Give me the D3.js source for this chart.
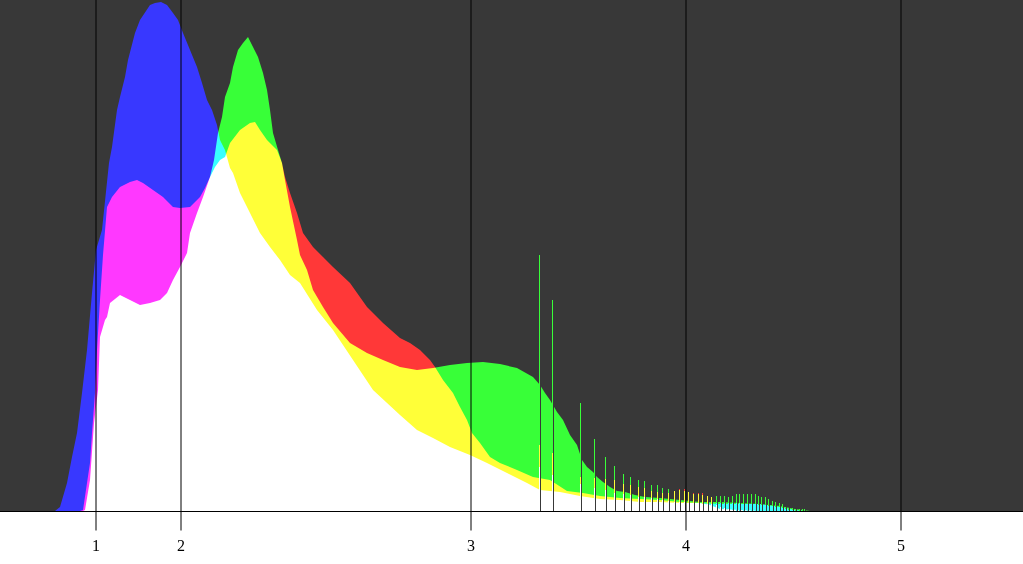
<!DOCTYPE html>
<html><head><meta charset="utf-8">
<script src="https://cdn.jsdelivr.net/npm/d3@7"></script>
<style>html,body{margin:0;padding:0;background:#fff;overflow:hidden}svg{display:block}</style>
</head><body>
<svg id="c" width="1023" height="564"></svg>
<script>
// Histogram bins (x = bin position, value = count in plot units)
const blueData = [[55,0],[60,4],[67,28],[72,54],[77,78],[82,118],[87,161],[92,218],[96,261],[102,281],[109,348],[112,364],[117,401],[120,414],[125,434],[128,451],[135,478],[140,491],[150,506],[155,508],[161,509],[167,506],[173,498],[178,491],[183,478],[190,461],[197,444],[202,428],[207,411],[212,401],[217,386],[220,371],[225,361],[230,343],[233,338],[240,318],[250,298],[260,278],[270,264],[280,251],[290,236],[300,228],[317,201],[333,181],[353,151],[373,121],[400,96],[417,81],[433,73],[450,64],[470,56],[487,48],[507,38],[527,28],[540,21],[560,19],[580,15],[600,12],[620,11],[640,9],[660,9],[680,8],[700,8],[720,7],[740,7],[760,7],[780,4],[795,1],[805,0]];
const redData = [[80,0],[83,1],[87,28],[90,48],[92,78],[95,118],[97,161],[100,211],[103,256],[107,304],[112,314],[120,324],[130,329],[137,331],[143,328],[153,321],[163,314],[173,304],[180,303],[190,304],[200,314],[205,323],[210,334],[215,344],[220,351],[225,354],[230,368],[240,381],[250,388],[255,389],[260,381],[267,371],[277,361],[282,348],[285,334],[290,318],[297,298],[303,278],[313,264],[323,254],[333,244],[350,228],[367,204],[383,188],[400,173],[410,168],[420,161],[430,151],[435,144],[443,131],[453,118],[460,104],[467,91],[472,78],[480,68],[490,54],[500,48],[517,41],[533,34],[550,31],[567,20],[583,18],[600,15],[620,13],[640,12],[660,11],[680,9],[700,8],[710,6],[720,2],[740,1],[760,0]];
const greenData = [[83,0],[85,1],[90,31],[94,88],[98,121],[100,174],[105,191],[107,194],[110,208],[120,216],[130,211],[140,206],[150,208],[160,211],[167,218],[173,231],[180,244],[187,258],[190,278],[197,298],[203,314],[210,334],[214,351],[218,378],[222,394],[225,414],[230,428],[233,444],[238,461],[243,468],[248,474],[253,464],[258,454],[263,438],[267,421],[270,401],[273,378],[278,361],[282,348],[285,331],[290,304],[297,271],[300,256],[307,241],[313,221],[323,204],[333,188],[350,168],[367,158],[383,151],[400,144],[417,141],[433,143],[450,146],[467,148],[483,149],[500,147],[517,143],[533,134],[540,126],[545,118],[550,111],[557,99],[563,91],[570,76],[577,66],[582,51],[587,44],[593,39],[597,34],[603,29],[610,24],[617,20],[625,19],[635,16],[645,14],[660,13],[680,11],[700,9],[720,9],[740,8],[760,7],[780,5],[795,2],[810,0]];

// Comb spikes: bin position and count per channel
const spikeX = [539,552,580,594,605,614,623,630,638,644,651,657,662,668,674,679,684,688,693,698,702,707,711,716,720,724,728,732,736,739,743,747,751,755,758,761,765,768,772,775,779,782,785,788,792,795,799,802,804];
const spikeG = [256,211,108,72,54,45,37,34,31,30,26,26,23,22,20,21,20,19,17,17,16,15,14,15,15,15,14,15,17,17,17,17,17,17,15,14,14,12,10,9,8,7,4,3,3,2,2,2,2];
const spikeR = [66,58,34,33,32,31,27,26,24,23,20,19,18,18,20,22,22,19,18,18,18,15,14,6,4,3,2,1,0,0,0,0,0,0,0,0,0,0,0,0,0,0,0,0,0,0,0,0,0];
const spikeB = [44,36,27,23,21,18,17,16,14,14,13,12,11,10,9,9,9,8,8,8,7,7,7,8,8,8,8,8,8,8,7,7,7,7,6,6,6,5,5,4,4,3,2,1,1,0,0,0,0];

const tickValues = [95,180,470,685,900];
const tickLabels = ["1","2","3","4","5"];

const W = 1023, H = 564, baseY = 511;
const bg = "#383838";
const svg = d3.select("#c");
const x = d3.scaleLinear().domain([0,1023]).range([0,W]);
const y = d3.scaleLinear().domain([0,511]).range([baseY,0]);

svg.append("rect").attr("x",0).attr("y",0).attr("width",W).attr("height",H).attr("fill","#fff");
svg.append("rect").attr("x",0).attr("y",0).attr("width",W).attr("height",baseY).attr("fill",bg);

const area = d3.area().x(d=>x(d[0])).y0(y(0)).y1(d=>y(d[1])).curve(d3.curveLinear);
const channels = [
  {data: redData, color:"#ff0000"},
  {data: greenData, color:"#00ff00"},
  {data: blueData, color:"#0000ff"}
];
const g = svg.append("g");
channels.forEach(ch=>{
  g.append("path").attr("d",area(ch.data)).attr("fill",ch.color).style("mix-blend-mode","screen");
});

// spikes: split each bin into layered segments with the additive colour of the channels present
const mixColor = {"RGB":"#ffffff","RG":"#ffff38","GB":"#38ffff","RB":"#ff38ff","R":"#ff3838","G":"#38ff38","B":"#3838ff"};
const segs = [];
spikeX.forEach((sx,i)=>{
  const vals = [["R",spikeR[i]],["G",spikeG[i]],["B",spikeB[i]]].sort((a,b)=>a[1]-b[1]);
  let lo = 0;
  vals.forEach((v,k)=>{
    if (v[1] > lo) {
      const key = ["R","G","B"].filter(c=>vals.slice(k).some(w=>w[0]===c)).join("");
      segs.push({x:sx, lo:lo, hi:v[1], color:mixColor[key]});
      lo = v[1];
    }
  });
});
g.selectAll(null).data(segs).enter().append("rect")
  .attr("x",d=>x(d.x)).attr("width",d=>x(d.x+1)-x(d.x))
  .attr("y",d=>y(d.hi)).attr("height",d=>y(d.lo)-y(d.hi))
  .attr("shape-rendering","crispEdges").attr("fill",d=>d.color);
// empty bins right after each spike
g.selectAll(null).data(spikeX).enter().append("rect")
  .attr("x",d=>x(d+1)).attr("width",d=>x(d+2)-x(d+1))
  .attr("y",0).attr("height",baseY).attr("shape-rendering","crispEdges").attr("fill",bg);

const axis = d3.axisBottom(x).tickValues(tickValues)
  .tickFormat((d,i)=>tickLabels[i]).tickSizeInner(19).tickSizeOuter(0).tickPadding(9);
const ax = svg.append("g").attr("transform",`translate(0.5,${baseY+0.5})`).call(axis);
ax.select(".domain").attr("stroke","#000").attr("d",`M-1,0H${W+1}`);
ax.selectAll(".tick line").attr("stroke","#000").attr("y1",-baseY-1).attr("y2",19);
ax.selectAll(".tick text").attr("fill","#000").attr("font-family","'Liberation Serif','Times New Roman',serif").attr("font-size",16);
</script>
</body></html>
